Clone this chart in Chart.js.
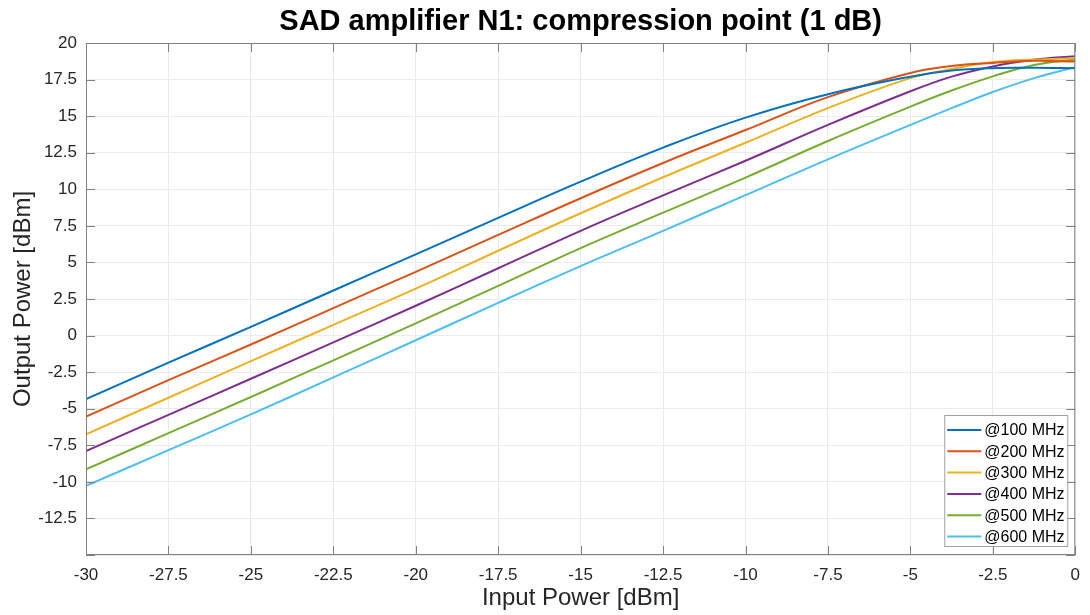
<!DOCTYPE html>
<html lang="en">
<head>
<meta charset="UTF-8">
<title>SAD amplifier N1: compression point (1 dB)</title>
<script src="https://cdn.jsdelivr.net/npm/chart.js"></script>
<style>
  body { margin: 0; background: #fff; }
  canvas { display: block; }
</style>
</head>
<body>
<canvas id="c1dbChart" width="1090" height="615"></canvas>
<script>
// input power sweep [dBm]
const inputPower = [-30, -27.5, -25, -22.5, -20, -17.5, -15, -12.5, -10, -7.5, -5, -3.75, -2.5, -1.25, 0];

// output power [dBm] per frequency
const out100 = [-4.35, -1.85, 0.59, 3.08, 5.55, 8.05, 10.52, 12.85, 14.9, 16.5, 17.7, 18.12, 18.28, 18.3, 18.27];
const out200 = [-5.54, -3.05, -0.61, 1.88, 4.36, 6.88, 9.39, 11.8, 14.05, 16.3, 17.95, 18.43, 18.64, 18.78, 18.73];
const out300 = [-6.75, -4.25, -1.75, 0.73, 3.21, 5.8, 8.36, 10.82, 13.18, 15.55, 17.6, 18.22, 18.7, 18.87, 18.96];
const out400 = [-7.89, -5.42, -2.95, -0.46, 2.04, 4.6, 7.16, 9.58, 11.95, 14.4, 16.7, 17.7, 18.4, 18.85, 19.1];
const out500 = [-9.14, -6.67, -4.2, -1.69, 0.83, 3.4, 5.98, 8.4, 10.8, 13.3, 15.65, 16.75, 17.72, 18.5, 18.87];
const out600 = [-10.28, -7.83, -5.39, -2.86, -0.32, 2.24, 4.75, 7.16, 9.6, 12.05, 14.4, 15.55, 16.65, 17.6, 18.35];

const seriesLabels = ['@100 MHz', '@200 MHz', '@300 MHz', '@400 MHz', '@500 MHz', '@600 MHz'];
const seriesColors = ['#0072BD', '#D95319', '#EDB120', '#7E2F8E', '#77AC30', '#4DBEEE'];
const seriesValues = [out100, out200, out300, out400, out500, out600];

const xTicks = [-30, -27.5, -25, -22.5, -20, -17.5, -15, -12.5, -10, -7.5, -5, -2.5, 0];
const yTicks = [-15, -12.5, -10, -7.5, -5, -2.5, 0, 2.5, 5, 7.5, 10, 12.5, 15, 17.5, 20];

const titleText = 'SAD amplifier N1: compression point (1 dB)';

const FONT = 'Arial, "Liberation Sans", Helvetica, sans-serif';
const TICK_COLOR = '#262626';
const BOX_COLOR = '#808080';

const datasets = seriesValues.map((vals, i) => ({
  label: seriesLabels[i],
  data: inputPower.map((x, j) => ({ x: x, y: vals[j] })),
  borderColor: seriesColors[i],
  backgroundColor: seriesColors[i],
  borderWidth: 2,
  pointRadius: 0,
  tension: 0.4,
  fill: false
}));

// title, box with inward ticks (matlab style) and legend inside axes
const matlabFrame = {
  id: 'matlabFrame',
  afterDraw(chart) {
    const { ctx, chartArea: a, scales } = chart;
    const sx = scales.x, sy = scales.y;
    ctx.save();

    ctx.fillStyle = '#000';
    ctx.font = 'bold 29px ' + FONT;
    ctx.textAlign = 'center';
    ctx.textBaseline = 'middle';
    ctx.fillText(titleText, (a.left + a.right) / 2, 22);

    ctx.strokeStyle = BOX_COLOR;
    ctx.lineWidth = 1;
    ctx.strokeRect(a.left + 0.5, a.top + 0.5, a.right - a.left - 1, a.bottom - a.top - 1);

    ctx.beginPath();
    xTicks.forEach(v => {
      const px = Math.round(sx.getPixelForValue(v)) + 0.5;
      ctx.moveTo(px, a.bottom); ctx.lineTo(px, a.bottom - 9);
      ctx.moveTo(px, a.top); ctx.lineTo(px, a.top + 9);
    });
    yTicks.forEach(v => {
      const py = Math.round(sy.getPixelForValue(v)) + 0.5;
      ctx.moveTo(a.left, py); ctx.lineTo(a.left + 9, py);
      ctx.moveTo(a.right, py); ctx.lineTo(a.right - 9, py);
    });
    ctx.stroke();

    // legend
    const w = 123, h = 131, rowH = 21.3;
    const lx = a.right - 8 - w, ly = a.bottom - 9 - h;
    ctx.fillStyle = '#fff';
    ctx.fillRect(lx, ly, w, h);
    ctx.strokeStyle = '#a0a0a0';
    ctx.strokeRect(lx + 0.5, ly + 0.5, w, h);
    ctx.font = '16px ' + FONT;
    ctx.textAlign = 'left';
    chart.data.datasets.forEach((ds, i) => {
      const cy = ly + 15 + i * rowH;
      ctx.strokeStyle = ds.borderColor;
      ctx.lineWidth = 2;
      ctx.beginPath();
      ctx.moveTo(lx + 3, cy); ctx.lineTo(lx + 37, cy);
      ctx.stroke();
      ctx.fillStyle = '#000';
      ctx.fillText(ds.label, lx + 40, cy + 1);
    });
    ctx.restore();
  }
};

const fmt = v => String(Number(v.toFixed(2)));

new Chart(document.getElementById('c1dbChart'), {
  type: 'line',
  data: { datasets: datasets },
  options: {
    responsive: false,
    animation: false,
    devicePixelRatio: 1,
    layout: { padding: { top: 43, right: 9, left: 0, bottom: 0 } },
    plugins: {
      legend: { display: false },
      title: { display: false },
      tooltip: { enabled: false }
    },
    scales: {
      x: {
        type: 'linear',
        min: -30,
        max: 0,
        afterBuildTicks: s => { s.ticks = xTicks.map(v => ({ value: v })); },
        afterFit: s => { s.height = 60; },
        ticks: {
          autoSkip: false,
          maxRotation: 0,
          padding: 10,
          color: TICK_COLOR,
          font: { family: FONT, size: 17 },
          callback: fmt
        },
        grid: { color: '#ebebeb', drawTicks: false },
        border: { display: false },
        title: {
          display: true,
          text: 'Input Power [dBm]',
          color: TICK_COLOR,
          font: { family: FONT, size: 24 },
          padding: { top: 0, bottom: 2 }
        }
      },
      y: {
        type: 'linear',
        min: -15,
        max: 20,
        afterBuildTicks: s => { s.ticks = yTicks.map(v => ({ value: v })); },
        afterFit: s => { s.width = 86; },
        ticks: {
          autoSkip: false,
          padding: 9,
          color: TICK_COLOR,
          font: { family: FONT, size: 17 },
          callback: v => (v === -15 ? '' : fmt(v))
        },
        grid: { color: '#ebebeb', drawTicks: false },
        border: { display: false },
        title: {
          display: true,
          text: 'Output Power [dBm]',
          color: TICK_COLOR,
          font: { family: FONT, size: 24 },
          padding: { top: 9, bottom: 0 }
        }
      }
    }
  },
  plugins: [matlabFrame]
});
</script>
</body>
</html>
